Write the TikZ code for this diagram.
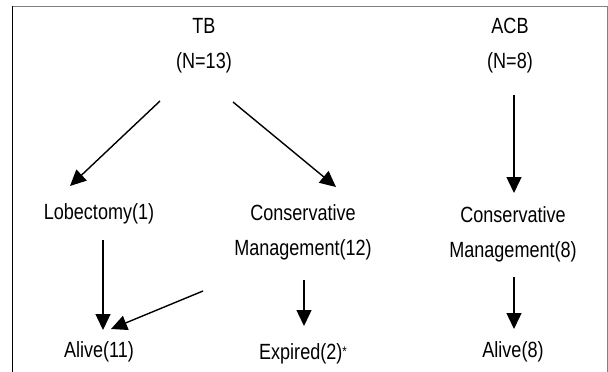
\documentclass[tikz,border=0pt]{standalone}
\usepackage{fontspec}
\setmainfont{Liberation Sans}[FakeStretch=0.82]
\usetikzlibrary{arrows.meta}
\tikzset{
  lbl/.style={inner sep=0pt, align=center, font=\fontsize{22}{35}\selectfont},
  arr/.style={line width=1.4pt, -{Triangle[length=16pt,width=15pt]}}
}
\begin{document}
\begin{tikzpicture}[x=1pt, y=-1pt]
	\useasboundingbox (0,0) rectangle (608,372);
	% rahmen
	\draw[gray, line width=1pt] (12,6) -- (607,6) -- (607,372);
	\draw[line width=1pt] (12,6) -- (12,372);
	% gruppen
	\node[lbl] (tb) at (204,46) {TB\\(N=13)};
	\node[lbl] (acb) at (510,46) {ACB\\(N=8)};
	% behandlung
	\node[lbl] (lob) at (99,214) {Lobectomy(1)};
	\node[lbl] (cons) at (303,232) {Conservative\\Management(12)};
	\node[lbl] (consb) at (513,234) {Conservative\\Management(8)};
	% ergebnis
	\node[lbl] (alivea) at (99,352) {Alive(11)};
	\node[lbl] (expired) at (303,354) {Expired(2)\raisebox{0.15em}{\fontsize{14}{14}\selectfont *}};
	\node[lbl] (aliveb) at (513,352) {Alive(8)};
	% pfeile
	\draw[arr] ([shift={(-44,55)}]tb.center) -- ([shift={(-29,-28)}]lob.center);
	\draw[arr] ([shift={(29,56)}]tb.center) -- ([shift={(33,-45)}]cons.center);
	\draw[arr] ([shift={(4,49)}]acb.center) -- ([shift={(1,-41)}]consb.center);
	\draw[arr] ([shift={(4,26)}]lob.center) -- ([shift={(4,-22)}]alivea.center);
	\draw[arr] ([shift={(-100,59)}]cons.center) -- ([shift={(12,-23)}]alivea.center);
	\draw[arr] ([shift={(1,48)}]cons.center) -- ([shift={(1,-28)}]expired.center);
	\draw[arr] ([shift={(1,43)}]consb.center) -- ([shift={(1,-23)}]aliveb.center);
\end{tikzpicture}
\end{document}
